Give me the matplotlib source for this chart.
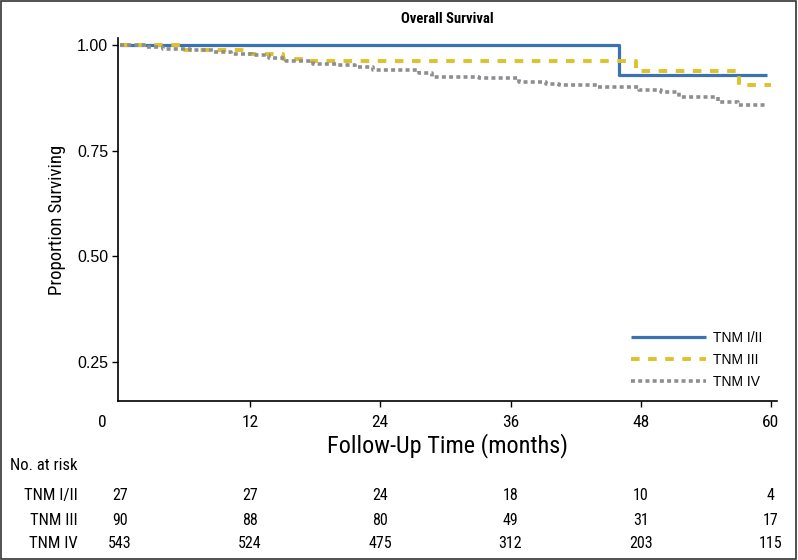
#%% Kaplan-Meier style overall survival chart with number-at-risk table
import numpy as np
import matplotlib.pyplot as plt
from matplotlib.transforms import blended_transform_factory, ScaledTranslation
from matplotlib.patches import Rectangle

#%% Data
groups = ['TNM I/II', 'TNM III', 'TNM IV']

t_12 = [0, 46.0, 59.6]
s_12 = [1.0, 0.930, 0.930]

t_3 = [0, 5.8, 11.5, 15.0, 17.5, 47.6, 57.1, 60.0]
s_3 = [1.0, 0.989, 0.978, 0.967, 0.963, 0.938, 0.905, 0.905]

t_4 = [0, 2.2, 4.0, 6.5, 8.6, 10.2, 12.2, 13.7, 15.3, 17.8, 20.0, 21.7,
       23.3, 27.6, 28.8, 33.1, 36.8, 39.3, 40.5, 44.1, 47.8, 49.9,
       51.5, 55.1, 57.0, 59.5]
s_4 = [1.0, 0.995, 0.990, 0.988, 0.984, 0.980, 0.976, 0.969, 0.962, 0.955,
       0.953, 0.947, 0.941, 0.933, 0.925, 0.921, 0.913, 0.907, 0.905,
       0.900, 0.894, 0.890, 0.878, 0.866, 0.858, 0.858]

risk_months = [0, 12, 24, 36, 48, 60]
at_risk_12 = [27, 27, 24, 18, 10, 4]
at_risk_3 = [90, 88, 80, 49, 31, 17]
at_risk_4 = [543, 524, 475, 312, 203, 115]

y_ticks = [0.25, 0.50, 0.75, 1.00]

#%% Fonts
plt.rcParams['font.family'] = ['Liberation Sans', 'DejaVu Sans']
narrow = dict(family=['Roboto Condensed', 'DejaVu Sans'])

#%% Figure
fig = plt.figure(figsize=(7.98, 5.6), dpi=100)
ax = fig.add_axes([0.1479, 0.284, 0.9737 - 0.1479, 0.932 - 0.284])

ax.step(t_12, s_12, where='post', color='#3a73b3', lw=2.3,
        solid_capstyle='butt', label=groups[0])
ax.step(t_3, s_3, where='post', color='#e0c128', lw=2.8,
        dashes=(2.2, 2.2), dash_capstyle='butt', label=groups[1])
ax.step(t_4, s_4, where='post', color='#8e8e8e', lw=2.6,
        dashes=(1.1, 0.9), dash_capstyle='butt', label=groups[2])

ax.set_xlim(-0.17, 60.56)
ax.set_ylim(0.1576, 1.0166)

ax.spines['top'].set_visible(False)
ax.spines['right'].set_visible(False)
ax.spines['left'].set_linewidth(1.2)
ax.spines['bottom'].set_linewidth(1.2)

ax.set_yticks(y_ticks)
ax.set_yticklabels(['%.2f' % v for v in y_ticks], fontsize=11.5)
ax.set_xticks(risk_months)
ax.set_xticklabels([str(m) for m in risk_months], fontsize=12.5, **narrow)
ax.tick_params(axis='both', direction='out', length=4, width=1)
ax.tick_params(axis='x', pad=6)
ax.tick_params(axis='y', pad=3)
# the "0" label sits left of the y axis in the original
lab0 = ax.get_xticklabels()[0]
lab0.set_transform(lab0.get_transform() + ScaledTranslation(-18 / 100, 0, fig.dpi_scale_trans))
ax.xaxis.get_major_ticks()[0].tick1line.set_visible(False)

ax.set_xlabel('Follow-Up Time (months)', fontsize=17.5, labelpad=2, **narrow)
ax.set_ylabel('Proportion Surviving', fontsize=13.5, labelpad=8, **narrow)
ax.set_title('Overall Survival', fontsize=10.5, fontweight='bold', pad=11, **narrow)

leg = ax.legend(loc='upper left', frameon=False, fontsize=10,
                handlelength=5.4, handletextpad=0.5, labelspacing=0.55,
                borderpad=0, borderaxespad=0, bbox_to_anchor=(0.778, 0.192))

#%% Number at risk table
tr = blended_transform_factory(ax.transData, fig.transFigure)
fig.text(0.0975, 0.168, 'No. at risk', fontsize=12, ha='right', va='center', **narrow)
rows = [at_risk_12, at_risk_3, at_risk_4]
row_y = [0.1143, 0.0714, 0.0286]
for name, vals, yy in zip(groups, rows, row_y):
    fig.text(0.0975, yy, name, fontsize=12, ha='right', va='center', **narrow)
    for m, n in zip(risk_months, vals):
        ax.text(m, yy, str(n), transform=tr, fontsize=11.5,
                ha='center', va='center', clip_on=False, **narrow)

fig.patches.append(Rectangle((0.001, 0.002), 0.997, 0.996, transform=fig.transFigure,
                             fill=False, edgecolor='#333333', lw=1.2))

fig.savefig('out.png', dpi=100)
